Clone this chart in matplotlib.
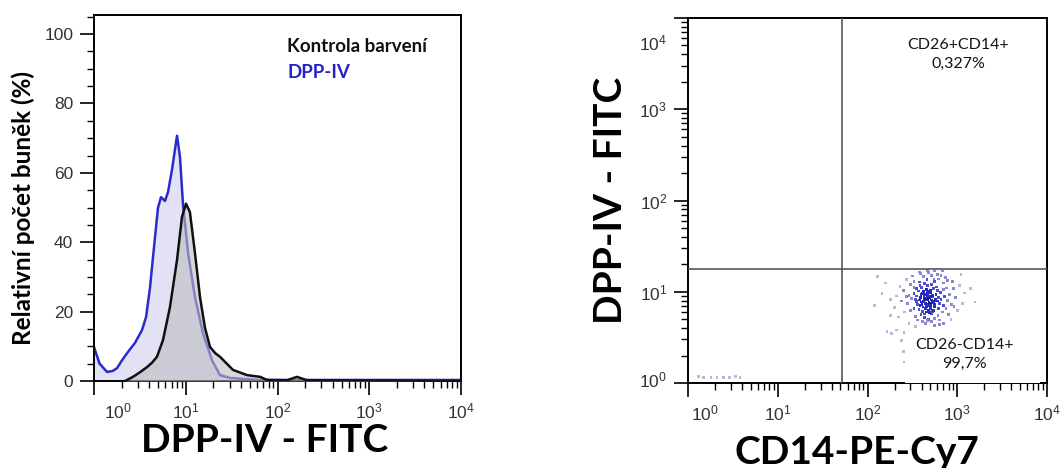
import matplotlib
matplotlib.use("Agg")
import matplotlib.pyplot as plt
import matplotlib.ticker as mticker
import matplotlib.transforms as mtransforms
from matplotlib.patches import Rectangle
import numpy as np

# --- histogram (left panel), DPP-IV - FITC intensity vs relative cell count (%)
ctrl_x = [2.18, 2.66, 3.2, 3.78, 4.3, 4.86, 5.65, 6.73, 8.03, 9.10, 10.07, 11.1, 12.6, 14.3,
          16.2, 18.4, 21.0, 23.6, 32.7, 46.5, 64.5, 76.9, 127, 163, 210, 10000]
ctrl_y = [0, 1.2, 2.6, 4.0, 5.3, 7.0, 11.8, 21.3, 34.9, 47.3, 51.1, 48.7, 36.9, 24.2,
          15.3, 9.8, 8.0, 7.0, 3.2, 1.7, 1.2, 0.3, 0.2, 1.2, 0.2, 0]

dpp_x = [1.0, 1.15, 1.39, 1.6, 1.78, 2.0, 2.29, 2.8, 3.34, 3.7, 4.08, 4.40, 4.98, 5.37,
         5.94, 6.41, 7.08, 8.03, 8.65, 9.33, 10.6, 12.6, 15.4, 19.3, 23.6, 30.3, 60, 10000]
dpp_y = [9.8, 5.0, 2.6, 2.9, 3.7, 5.8, 8.0, 11.0, 14.7, 18.5, 27.0, 35.8, 49.9, 53.0,
         51.9, 54.5, 60.9, 70.7, 64.6, 51.0, 36.9, 24.2, 13.8, 6.0, 1.7, 0.9, 0.3, 0.3]

# --- dot plot (right panel), CD14-PE-Cy7 vs DPP-IV - FITC
cd14 = [420, 470, 510, 455, 390, 530, 600, 440, 360, 480, 560, 410, 500, 620, 350,
        455, 580, 660, 330, 395, 520, 610, 700, 430, 370, 540, 470, 400, 310, 650,
        720, 480, 560, 340, 300, 590, 430, 520, 380, 445, 495, 545, 410, 460, 505,
        350, 630, 680, 570, 420, 490, 530, 385, 455, 600, 330, 750, 470, 520, 640,
        410, 360, 280, 290, 780, 700, 560, 380, 330, 460,
        435, 485, 515, 465, 405, 555, 395, 445, 475, 535, 425, 375, 505, 575, 345,
        415, 465, 495, 525, 455, 385, 545, 615, 355, 435, 490, 440, 510, 470, 400,
        250, 260, 240, 820, 860, 800, 900, 620, 700, 300, 270, 420, 520, 600, 480,
        390, 740, 950, 880, 230, 220, 340, 560, 700, 850, 1000, 1050, 1200, 180, 160,
        320, 660, 760, 290, 210, 920, 640, 380, 550, 440, 330, 270, 780, 1150, 200,
        130, 120, 145, 1400, 1580, 1100, 680, 560, 470, 180, 260, 240, 250, 255,
        165, 185, 210,
        1.3, 1.5, 1.8, 2.1, 2.5, 2.9, 3.4, 3.8]
dpp4 = [7.8, 8.2, 7.4, 6.9, 8.6, 8.9, 7.9, 9.3, 7.2, 6.3, 6.8, 6.1, 9.8, 6.5, 9.0,
        10.5, 9.4, 8.3, 6.6, 5.6, 5.8, 5.5, 7.1, 5.2, 10.2, 10.8, 11.6, 11.1, 8.4, 9.9,
        8.9, 5.0, 5.1, 5.4, 6.2, 11.3, 12.4, 12.1, 8.1, 7.5, 8.6, 7.6, 9.6, 8.9, 6.6,
        7.8, 7.4, 6.0, 8.3, 10.0, 7.1, 6.1, 7.0, 6.0, 10.3, 9.6, 6.6, 4.8, 4.7, 4.9,
        4.7, 4.9, 7.5, 9.1, 8.0, 10.6, 12.9, 12.8, 11.2, 13.5,
        8.4, 7.6, 8.1, 9.1, 7.3, 7.2, 9.4, 6.5, 7.0, 9.2, 8.8, 6.4, 10.4, 8.0, 8.2,
        6.8, 9.7, 5.9, 7.9, 7.2, 11.8, 6.2, 8.6, 10.8, 5.7, 9.0, 8.2, 6.9, 10.1, 7.7,
        10.3, 6.0, 7.9, 9.4, 7.2, 5.6, 10.9, 13.8, 12.5, 12.0, 13.6, 14.6, 15.0, 15.6, 16.2,
        15.8, 14.2, 8.6, 12.9, 11.5, 5.3, 4.2, 4.3, 4.5, 5.0, 6.2, 11.8, 9.7, 8.3, 12.5,
        14.9, 15.2, 11.0, 4.5, 9.0, 6.9, 4.4, 16.5, 13.8, 4.5, 13.0, 8.8, 13.2, 7.4, 6.7,
        14.6, 7.0, 9.5, 10.8, 7.7, 15.4, 16.9, 16.9, 17.0, 5.5, 3.6, 2.9, 2.2, 1.7,
        3.7, 3.5, 3.8,
        1.17, 1.15, 1.16, 1.15, 1.16, 1.15, 1.17, 1.16]

q_x = 52     # vertical quadrant gate (CD14)
q_y = 17.9   # horizontal quadrant gate (DPP-IV)
q_labels = ["CD26+CD14+\n0,327%", "CD26-CD14+\n99,7%"]

log_ticks = [1, 10, 100, 1000, 10000]
log_labels = [r"$\mathregular{10^{%d}}$" % i for i in range(5)]

plt.rcParams['font.family'] = ['Liberation Sans', 'DejaVu Sans']
TITLE_FONT = ['Lato', 'DejaVu Sans']
TICK_COL = '#333333'

fig = plt.figure(figsize=(10.64, 4.68), dpi=100)
ax1 = fig.add_axes([94 / 1064, 1 - 381 / 468, 367 / 1064, 366 / 468])
ax2 = fig.add_axes([688 / 1064, 1 - 383 / 468, 359 / 1064, 365 / 468])


def style_axis(ax):
    for s in ax.spines.values():
        s.set_linewidth(1.4)
        s.set_color('black')
    ax.tick_params(which='major', direction='out', length=10, width=1.2,
                   colors='black', labelcolor=TICK_COL, labelsize=12.5)
    ax.tick_params(which='minor', direction='out', length=5, width=1.0, colors='black')


# left: overlaid histograms
ax1.fill_between(dpp_x, dpp_y, 0, color='#e2e2f4', lw=0, zorder=1)
ax1.plot(dpp_x, dpp_y, color='#2b2bcc', lw=1.8, zorder=2)
ax1.fill_between(ctrl_x, ctrl_y, 0, color='#bdbdc2', alpha=0.6, lw=0, zorder=3)
ax1.plot(ctrl_x, ctrl_y, color='#111111', lw=1.8, zorder=4)
ax1.set_xscale('log')
ax1.set_xlim(1, 10000)
ax1.set_ylim(0, 105.5)
ax1.xaxis.set_major_locator(mticker.FixedLocator(log_ticks))
ax1.xaxis.set_minor_locator(mticker.LogLocator(base=10, subs=np.arange(2, 10)))
ax1.set_xticklabels(log_labels)
ax1.yaxis.set_major_locator(mticker.MultipleLocator(20))
ax1.yaxis.set_minor_locator(mticker.MultipleLocator(5))
style_axis(ax1)
ax1.tick_params(axis='x', which='major', pad=5)
ax1.tick_params(axis='y', which='major', pad=5)
lbl = ax1.get_xticklabels()
lbl[0].set_transform(lbl[0].get_transform() + mtransforms.ScaledTranslation(24 / 100, 0, fig.dpi_scale_trans))

ax1.text(0.526, 0.913, "Kontrola barvení", transform=ax1.transAxes, family=TITLE_FONT,
         fontweight='bold', fontsize=13.5, color='#111111', va='center', ha='left')
ax1.text(0.526, 0.844, "DPP-IV", transform=ax1.transAxes, family=TITLE_FONT,
         fontweight='bold', fontsize=13.5, color='#2222cc', va='center', ha='left')

fig.text(23 / 1064, 1 - 208 / 468, "Relativní počet buněk (%)", rotation=90,
         family=TITLE_FONT, fontweight='bold', fontsize=17.5, ha='center', va='center')
fig.text(265 / 1064, 1 - 440 / 468, "DPP-IV - FITC", family=TITLE_FONT,
         fontweight='bold', fontsize=28, ha='center', va='center')

# right: quadrant dot plot, dots shaded by local density
cx = np.array(cd14, dtype=float)
cy = np.array(dpp4, dtype=float)
lx, ly = np.log10(cx), np.log10(cy)
dens = np.array([np.sum((lx - a) ** 2 + (ly - b) ** 2 < 0.012) for a, b in zip(lx, ly)])
palette = np.array(['#b8b8d8', '#8888d4', '#5050d0', '#2a2ac4', '#1c1c80'])
lvl = np.clip(np.digitize(dens, [6, 14, 26, 40]), 0, 4)
lvl[cx < 10] = 0
ax2.scatter(cx, cy, s=4, marker='s', c=palette[lvl], linewidths=0, zorder=2)

ax2.axvline(q_x, color='#555555', lw=1.2, zorder=3)
ax2.axhline(q_y, color='#555555', lw=1.2, zorder=3)
ax2.add_patch(Rectangle((0.604, 0.0), 0.376, 0.151, transform=ax2.transAxes,
                        facecolor='white', edgecolor='none', zorder=4))
ax2.text(0.752, 0.90, q_labels[0], transform=ax2.transAxes, family=TITLE_FONT,
         fontsize=11.5, ha='center', va='center', color='#151515', linespacing=1.5, zorder=5)
ax2.text(0.77, 0.078, q_labels[1], transform=ax2.transAxes, family=TITLE_FONT,
         fontsize=11.5, ha='center', va='center', color='#151515', linespacing=1.5, zorder=5)

ax2.set_xscale('log')
ax2.set_yscale('log')
ax2.set_xlim(1, 10000)
ax2.set_ylim(1, 10000)
for axis in (ax2.xaxis, ax2.yaxis):
    axis.set_major_locator(mticker.FixedLocator(log_ticks))
    axis.set_minor_locator(mticker.LogLocator(base=10, subs=np.arange(2, 10)))
ax2.set_xticklabels(log_labels)
ax2.set_yticklabels(log_labels)
style_axis(ax2)
ax2.tick_params(axis='x', which='major', pad=5)
ax2.tick_params(axis='y', which='major', pad=5)
xl = ax2.get_xticklabels()
xl[0].set_transform(xl[0].get_transform() + mtransforms.ScaledTranslation(17 / 100, 0, fig.dpi_scale_trans))
yl = ax2.get_yticklabels()
yl[-1].set_transform(yl[-1].get_transform() + mtransforms.ScaledTranslation(0, -24 / 100, fig.dpi_scale_trans))
yl[0].set_transform(yl[0].get_transform() + mtransforms.ScaledTranslation(0, 4 / 100, fig.dpi_scale_trans))

fig.text(610 / 1064, 1 - 200 / 468, "DPP-IV - FITC", rotation=90, family=TITLE_FONT,
         fontweight='bold', fontsize=28, ha='center', va='center')
fig.text(857 / 1064, 1 - 452 / 468, "CD14-PE-Cy7", family=TITLE_FONT,
         fontweight='bold', fontsize=28, ha='center', va='center')

fig.savefig('out.png', dpi=100)
